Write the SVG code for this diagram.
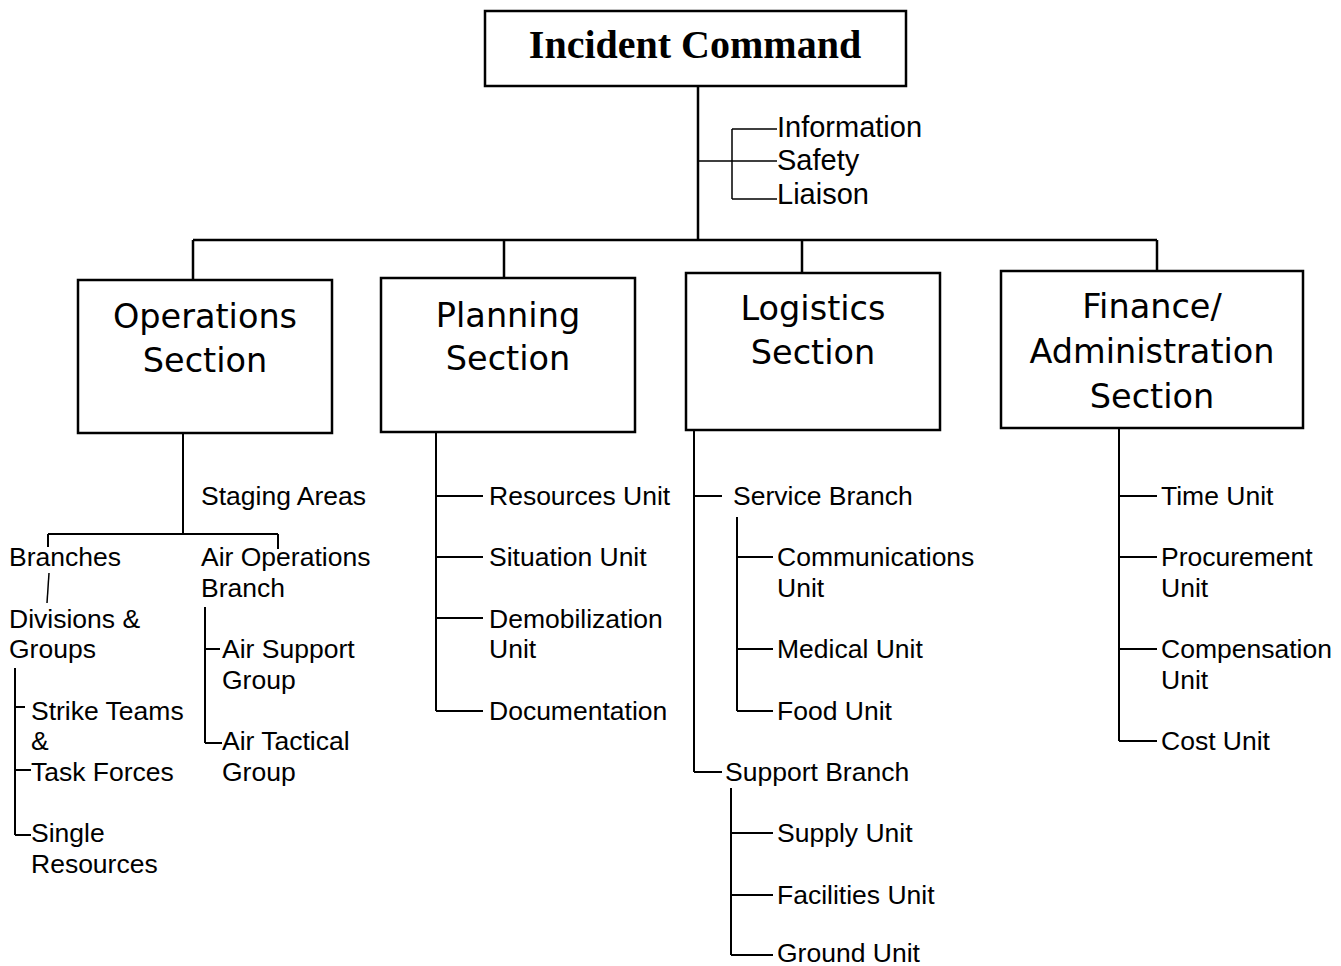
<svg xmlns="http://www.w3.org/2000/svg" width="1341" height="966" viewBox="0 0 1341 966">
<style>
.box{fill:#fff;stroke:#000;stroke-width:2.5}
.ic{font-family:"Liberation Serif","Times New Roman",serif;font-weight:bold;font-size:40px;fill:#000}
.sec{font-family:"DejaVu Sans","Liberation Sans",sans-serif;font-size:33.5px;fill:#000;text-anchor:middle}
.t{font-family:"Liberation Sans",Arial,sans-serif;font-size:26.5px;fill:#000}
.staff{font-family:"Liberation Sans",Arial,sans-serif;font-size:29px;fill:#000}
.c1{fill:none;stroke:#000;stroke-width:2.5}
.c2{fill:none;stroke:#000;stroke-width:2}
.c3{fill:none;stroke:#000;stroke-width:1.5}
</style>
<rect width="1341" height="966" fill="#fff"/>
<g id="connectors">
<path class="c1" d="M698 86V241M193 240H1157M193 240V280M504 240V278M802 240V273M1157 240V271"/>
<path class="c3" d="M698 161H777M732 129V199M732 129H777M732 199H777"/>
<path class="c2" d="M183 433V534M48 534H278M48 534V547M278 534V549"/>
<path class="c3" d="M49 573L47 603"/>
<path class="c2" d="M15 668V835M15 707H25M15 770H31M15 835H31"/>
<path class="c2" d="M205 607V743M205 649H220M205 743H222"/>
<path class="c2" d="M436 432V711M436 496H483M436 557H483M436 618H483M436 711H483"/>
<path class="c2" d="M694 430V772M694 496H722M694 772H722"/>
<path class="c2" d="M737 517V711M737 557H773M737 649H773M737 711H773"/>
<path class="c2" d="M731 788V955M731 833H773M731 895H773M731 955H773"/>
<path class="c2" d="M1119 428V741M1119 496H1157M1119 557H1157M1119 649H1157M1119 741H1157"/>
</g>
<g id="incident-command">
<rect class="box" x="485" y="11" width="421" height="75"/>
<text class="ic" x="695" y="58" text-anchor="middle">Incident Command</text>
</g>
<g id="staff">
<text class="staff" x="777" y="137">Information</text>
<text class="staff" x="777" y="170">Safety</text>
<text class="staff" x="777" y="204">Liaison</text>
</g>
<g id="operations">
<rect class="box" x="78" y="280" width="254" height="153"/>
<text class="sec" x="205" y="328">Operations</text>
<text class="sec" x="205" y="372">Section</text>
</g>
<g id="planning">
<rect class="box" x="381" y="278" width="254" height="154"/>
<text class="sec" x="508" y="327">Planning</text>
<text class="sec" x="508" y="370">Section</text>
</g>
<g id="logistics">
<rect class="box" x="686" y="273" width="254" height="157"/>
<text class="sec" x="813" y="320">Logistics</text>
<text class="sec" x="813" y="364">Section</text>
</g>
<g id="finance">
<rect class="box" x="1001" y="271" width="302" height="157"/>
<text class="sec" x="1152" y="318">Finance/</text>
<text class="sec" x="1152" y="363">Administration</text>
<text class="sec" x="1152" y="408">Section</text>
</g>
<g id="operations-units">
<text class="t" x="201" y="505">Staging Areas</text>
<text class="t" x="9" y="566">Branches</text>
<text class="t" x="201" y="566">Air Operations</text>
<text class="t" x="201" y="597">Branch</text>
<text class="t" x="9" y="628">Divisions &amp;</text>
<text class="t" x="9" y="658">Groups</text>
<text class="t" x="31" y="720">Strike Teams</text>
<text class="t" x="31" y="750">&amp;</text>
<text class="t" x="31" y="781">Task Forces</text>
<text class="t" x="31" y="842">Single</text>
<text class="t" x="31" y="873">Resources</text>
<text class="t" x="222" y="658">Air Support</text>
<text class="t" x="222" y="689">Group</text>
<text class="t" x="222" y="750">Air Tactical</text>
<text class="t" x="222" y="781">Group</text>
</g>
<g id="planning-units">
<text class="t" x="489" y="505">Resources Unit</text>
<text class="t" x="489" y="566">Situation Unit</text>
<text class="t" x="489" y="628">Demobilization</text>
<text class="t" x="489" y="658">Unit</text>
<text class="t" x="489" y="720">Documentation</text>
</g>
<g id="logistics-units">
<text class="t" x="733" y="505">Service Branch</text>
<text class="t" x="777" y="566">Communications</text>
<text class="t" x="777" y="597">Unit</text>
<text class="t" x="777" y="658">Medical Unit</text>
<text class="t" x="777" y="720">Food Unit</text>
<text class="t" x="725" y="781">Support Branch</text>
<text class="t" x="777" y="842">Supply Unit</text>
<text class="t" x="777" y="904">Facilities Unit</text>
<text class="t" x="777" y="962">Ground Unit</text>
</g>
<g id="finance-units">
<text class="t" x="1161" y="505">Time Unit</text>
<text class="t" x="1161" y="566">Procurement</text>
<text class="t" x="1161" y="597">Unit</text>
<text class="t" x="1161" y="658">Compensation</text>
<text class="t" x="1161" y="689">Unit</text>
<text class="t" x="1161" y="750">Cost Unit</text>
</g>
</svg>
